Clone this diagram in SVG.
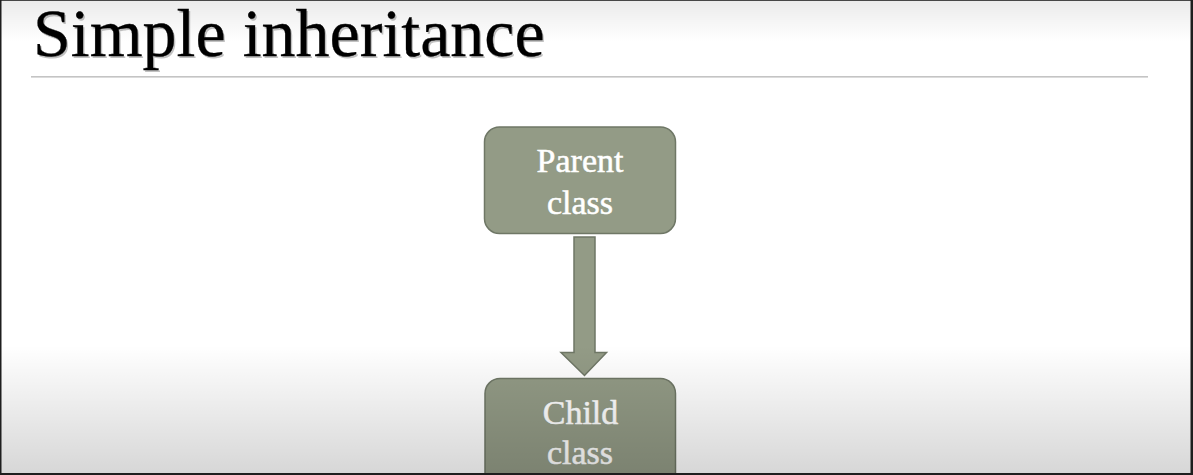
<svg xmlns="http://www.w3.org/2000/svg" width="1193" height="475" viewBox="0 0 1193 475">
  <style>
    .box { fill: #939b86; stroke: #6f7766; stroke-width: 1.5; }
    .lbl { font-family: "Liberation Serif", "Times New Roman", serif; font-size: 34px; fill: #ffffff; stroke: #ffffff; stroke-width: 0.5; text-anchor: middle; }
    .title { font-family: "Liberation Serif", "Times New Roman", serif; font-size: 68px; }
  </style>
  <defs>
    <linearGradient id="topShade" x1="0" y1="0" x2="0" y2="1">
      <stop offset="0" stop-color="#000" stop-opacity="0.08"/>
      <stop offset="1" stop-color="#000" stop-opacity="0"/>
    </linearGradient>
    <linearGradient id="botShade" x1="0" y1="0" x2="0" y2="1">
      <stop offset="0" stop-color="#000" stop-opacity="0"/>
      <stop offset="1" stop-color="#000" stop-opacity="0.16"/>
    </linearGradient>
  </defs>
  <rect x="0" y="0" width="1193" height="475" fill="#ffffff"/>
  <g id="title">
    <text class="title" x="34.5" y="57.5" fill="#9a9a9a" opacity="0.6">Simple inheritance</text>
    <text class="title" x="33" y="56" fill="#000000" stroke="#000000" stroke-width="0.3">Simple inheritance</text>
    <rect x="31" y="76" width="1117" height="1.6" fill="#c4c4c4"/>
  </g>
  <g id="connectors">
    <polygon class="box" points="574,237 595,237 595,352.5 606.5,352.5 584.5,375.5 561,352.5 574,352.5"/>
  </g>
  <g id="parent">
    <rect class="box" x="484.5" y="127" width="191" height="106.5" rx="15" ry="15"/>
    <text class="lbl" x="580" y="172">Parent</text>
    <text class="lbl" x="580" y="214">class</text>
  </g>
  <g id="child">
    <rect class="box" x="485" y="378.5" width="190.5" height="115" rx="15" ry="15"/>
    <text class="lbl" x="580.5" y="423.5">Child</text>
    <text class="lbl" x="580" y="464">class</text>
  </g>
  <rect x="0" y="0" width="1193" height="42" fill="url(#topShade)"/>
  <rect x="0" y="345" width="1193" height="130" fill="url(#botShade)"/>
  <g id="frame" fill="#1e1e1e">
    <rect x="0" y="0" width="1.5" height="475"/>
    <rect x="1190.5" y="0" width="2.5" height="475"/>
    <rect x="0" y="473" width="1193" height="2"/>
    <rect x="0" y="0" width="1193" height="0.8"/>
  </g>
</svg>
